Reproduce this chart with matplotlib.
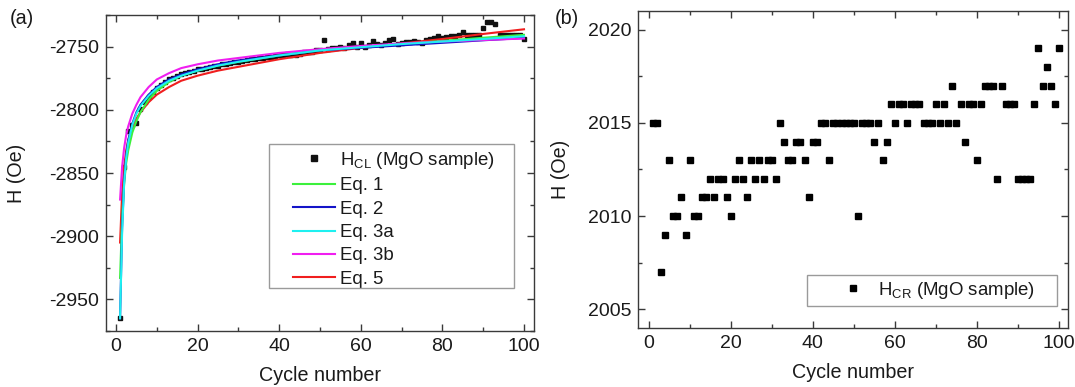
import matplotlib
matplotlib.use("Agg")
import matplotlib.pyplot as plt
from matplotlib.ticker import MultipleLocator
from matplotlib.patches import Rectangle

plt.rcParams['font.family'] = ['Liberation Sans', 'DejaVu Sans']
plt.rcParams['mathtext.fontset'] = 'custom'
plt.rcParams['mathtext.rm'] = 'Liberation Sans'
plt.rcParams['mathtext.it'] = 'Liberation Sans:italic'
plt.rcParams['axes.unicode_minus'] = False

# ---------------- data ----------------
cycles = list(range(1, 101))

h_cl = [-2965, -2845, -2817, -2812, -2810.6, -2799.5, -2794, -2790, -2786, -2783,
        -2780, -2778, -2776, -2774.5, -2773, -2772, -2771, -2770, -2769, -2768,
        -2767.5, -2767, -2766, -2765.5, -2765, -2764, -2763.5, -2763, -2762.5, -2762,
        -2761, -2760.5, -2760, -2759.5, -2759, -2759, -2758, -2758, -2757.5, -2757,
        -2756.5, -2756, -2756.5, -2757, -2755.5, -2754.5, -2754, -2754, -2753, -2752.5,
        -2745, -2752, -2751, -2751, -2750.5, -2751, -2749, -2747, -2750, -2747,
        -2750, -2748.5, -2745.5, -2748, -2748.7, -2747.5, -2745, -2744, -2748, -2747,
        -2746.5, -2746, -2745.5, -2746, -2747.3, -2745, -2744, -2743, -2741.5, -2743,
        -2742.5, -2742, -2741.5, -2741, -2738.4, -2741, -2741, -2741, -2741, -2735.4,
        -2730.5, -2730.5, -2732, -2741, -2741, -2741, -2741, -2741, -2741, -2743.7]

fit_cycles = [1, 1.5, 2, 2.5, 3, 4, 5, 6, 8, 10, 13, 16, 20, 25, 30, 40, 50, 60, 70, 80, 90, 100]
eq1 = [-2933, -2885, -2858, -2842, -2832, -2818, -2809, -2802, -2792, -2785, -2778, -2773,
       -2769, -2765, -2762, -2757, -2753, -2750, -2748, -2745.5, -2743, -2740.7]
eq2 = [-2965, -2893, -2856, -2836, -2824, -2811, -2802, -2796, -2788, -2782, -2776, -2772,
       -2768, -2764, -2761, -2757, -2753, -2751, -2749, -2747, -2745, -2743.2]
eq3a = [-2965, -2897, -2858, -2838, -2826, -2812, -2803, -2797, -2789, -2783, -2777, -2773,
        -2769, -2765, -2762, -2757, -2753, -2750.5, -2748, -2746, -2744, -2741.8]
eq3b = [-2871, -2845, -2830, -2820, -2813, -2803, -2796, -2790, -2782, -2776, -2771, -2767,
        -2764, -2761, -2759, -2755, -2752, -2749.5, -2747.5, -2746, -2744.8, -2743.6]
eq5 = [-2905, -2866, -2845, -2832, -2824, -2814, -2807, -2802, -2794, -2788, -2782, -2777,
       -2773, -2769, -2766, -2760, -2755, -2751, -2747.5, -2744, -2740, -2736.3]

h_cr = [2015, 2015, 2007, 2009, 2013, 2010, 2010, 2011, 2009, 2013,
        2010, 2010, 2011, 2011, 2012, 2011, 2012, 2012, 2011, 2010,
        2012, 2013, 2012, 2011, 2013, 2012, 2013, 2012, 2013, 2013,
        2012, 2015, 2014, 2013, 2013, 2014, 2014, 2013, 2011, 2014,
        2014, 2015, 2015, 2013, 2015, 2015, 2015, 2015, 2015, 2015,
        2010, 2015, 2015, 2015, 2014, 2015, 2013, 2014, 2016, 2015,
        2016, 2016, 2015, 2016, 2016, 2016, 2015, 2015, 2015, 2016,
        2015, 2016, 2015, 2017, 2015, 2016, 2014, 2016, 2016, 2013,
        2016, 2017, 2017, 2017, 2012, 2017, 2016, 2016, 2016, 2012,
        2012, 2012, 2012, 2016, 2019, 2017, 2018, 2017, 2016, 2019]

fit_labels = ['Eq. 1', 'Eq. 2', 'Eq. 3a', 'Eq. 3b', 'Eq. 5']
fit_colors = ['#3cf03c', '#1414c8', '#1ef0f0', '#f01ef0', '#f01e1e']
fit_z = [3, 4, 6, 5, 2]

# ---------------- figure ----------------
W, H = 1075, 387
fig = plt.figure(figsize=(W / 100, H / 100), dpi=100)

def px_axes(l, r, t, b):
    return fig.add_axes([l / W, 1 - b / H, (r - l) / W, (b - t) / H])

def fig_rect(l, t, r, b):
    fig.patches.append(Rectangle((l / W, 1 - b / H), (r - l) / W, (b - t) / H,
                                 transform=fig.transFigure, fill=False,
                                 edgecolor='#9a9a9a', linewidth=1.0, zorder=10))

ax1 = px_axes(106, 534, 15, 331)
ax2 = px_axes(638, 1068, 11, 328)

text_col = '#1a1a1a'
spine_col = '#3a3a3a'

for ax in (ax1, ax2):
    for s in ax.spines.values():
        s.set_color(spine_col)
        s.set_linewidth(1.0)
    ax.tick_params(which='both', direction='in', top=True, right=True,
                   colors=spine_col, labelcolor=text_col, labelsize=14)
    ax.tick_params(which='major', length=5, width=1.0, pad=5)
    ax.tick_params(which='minor', length=3, width=1.0)
    ax.xaxis.set_major_locator(MultipleLocator(20))
    ax.xaxis.set_minor_locator(MultipleLocator(10))
    ax.set_xlabel('Cycle number', fontsize=14.2, color=text_col, labelpad=8)
    ax.set_ylabel('H (Oe)', fontsize=14.2, color=text_col)

ax1.yaxis.set_label_coords((26 - 106) / 428, 0.5)
ax2.yaxis.set_label_coords((570 - 638) / 430, 0.5)

# panel (a)
data_line, = ax1.plot(cycles, h_cl, linestyle='none', marker='s', markersize=3.0,
                      color='#111111', label=r'H$_{\mathrm{CL}}$ (MgO sample)', zorder=1)
handles = [data_line]
for vals, lab, col, z in zip([eq1, eq2, eq3a, eq3b, eq5], fit_labels, fit_colors, fit_z):
    ln, = ax1.plot(fit_cycles, vals, color=col, linewidth=1.5, label=lab, zorder=z)
    handles.append(ln)
ax1.set_xlim(-2.45, 102.45)
ax1.set_ylim(-2975, -2725)
ax1.yaxis.set_major_locator(MultipleLocator(50))
ax1.yaxis.set_minor_locator(MultipleLocator(25))
leg1 = ax1.legend(handles=handles, loc='upper left',
                  bbox_to_anchor=(293 / W, 1 - 150 / H), bbox_transform=fig.transFigure,
                  borderaxespad=0, borderpad=0, fontsize=13.4, frameon=False,
                  handlelength=2.25, handletextpad=0.25, labelspacing=0.34,
                  markerscale=1.3)
for t in leg1.get_texts():
    t.set_color(text_col)
fig_rect(269, 144, 514, 288)

# panel (b)
ax2.plot(cycles, h_cr, linestyle='none', marker='s', markersize=4.6,
         color='#000000', label=r'H$_{\mathrm{CR}}$ (MgO sample)')
ax2.set_xlim(-2.6, 102.2)
ax2.set_ylim(2004, 2021)
ax2.yaxis.set_major_locator(MultipleLocator(5))
ax2.yaxis.set_minor_locator(MultipleLocator(2.5))
leg2 = ax2.legend(loc='center left',
                  bbox_to_anchor=(832 / W, 1 - 290.5 / H), bbox_transform=fig.transFigure,
                  borderaxespad=0, borderpad=0, fontsize=13.4, frameon=False,
                  handlelength=2.3, handletextpad=0.15, markerscale=0.9)
for t in leg2.get_texts():
    t.set_color(text_col)
fig_rect(807, 275, 1057, 306)

fig.text(10 / W, 1 - 18 / H, '(a)', fontsize=14.2, color=text_col, va='center', ha='left')
fig.text(555 / W, 1 - 18 / H, '(b)', fontsize=14.2, color=text_col, va='center', ha='left')

fig.savefig('out.png', dpi=100)
